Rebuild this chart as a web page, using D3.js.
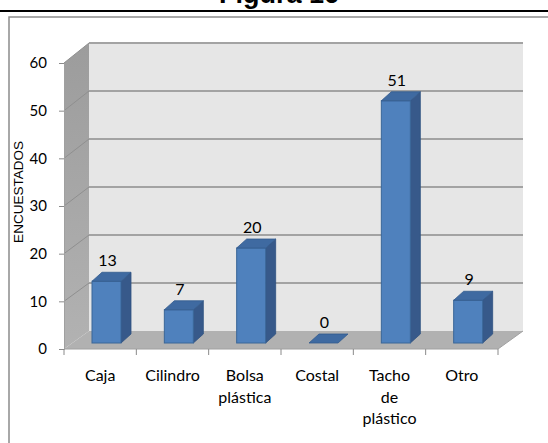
<!DOCTYPE html>
<html>
<head>
<meta charset="utf-8">
<script src="https://cdn.jsdelivr.net/npm/d3@7"></script>
<style>
  html, body { margin: 0; padding: 0; background: #fff; }
  svg { display: block; }
</style>
</head>
<body>
<svg id="chart" width="548" height="443"></svg>
<script>
// Recipiente usado para almacenar residuos
const categories = ["Caja", "Cilindro", "Bolsa plástica", "Costal", "Tacho de plástico", "Otro"];
const categoryLines = [["Caja"], ["Cilindro"], ["Bolsa", "plástica"], ["Costal"], ["Tacho", "de", "plástico"], ["Otro"]];
const values = [13, 7, 20, 0, 51, 9];
const yTicks = [0, 10, 20, 30, 40, 50, 60];
const titleText = "Figura 16";
const yTitle = "ENCUESTADOS";

const svg = d3.select("#chart");
const labelFont = "Lato, 'Open Sans', sans-serif";

// 3-D box geometry: front plane and back plane of the plot
const depthX = 25;
const x = d3.scaleBand().domain(categories).range([64, 498]).padding(0);
const yFront = d3.scaleLinear().domain([0, 60]).range([349, 63]);
const yBack = d3.scaleLinear().domain([0, 60]).range([331, 43]);
const yBar = d3.scaleLinear().domain([0, 60]).range([343, 58]);
const xL = 64, xR = 498;

// Title (its top runs past the page edge)
svg.append("text")
  .attr("x", 279).attr("y", 3)
  .attr("text-anchor", "middle")
  .attr("font-family", "'Liberation Sans', Arial, sans-serif")
  .attr("font-weight", "bold")
  .attr("font-size", 27)
  .text(titleText);

svg.append("line").attr("x1", 0).attr("x2", 548).attr("y1", 11).attr("y2", 11)
  .attr("stroke", "#000").attr("stroke-width", 2);

// Chart frame
svg.append("path")
  .attr("d", "M9,443 V17 H548")
  .attr("fill", "none").attr("stroke", "#8c8c8c").attr("stroke-width", 1.5);

const defs = svg.append("defs");
const sideGrad = defs.append("linearGradient").attr("id", "sideGrad")
  .attr("x1", 0).attr("x2", 0).attr("y1", 0).attr("y2", 1);
sideGrad.append("stop").attr("offset", 0).attr("stop-color", "#9c9c9c");
sideGrad.append("stop").attr("offset", 1).attr("stop-color", "#b2b2b2");

const bx = xL + depthX, bxR = xR + depthX;

// Back wall
svg.append("rect")
  .attr("x", bx).attr("y", yBack(60))
  .attr("width", bxR - bx).attr("height", yBack(0) - yBack(60))
  .attr("fill", "#e6e6e6");

// Side wall
svg.append("polygon")
  .attr("points", [[xL, yFront(0)], [bx, yBack(0)], [bx, yBack(60)], [xL, yFront(60)]].join(" "))
  .attr("fill", "url(#sideGrad)");

// Floor
svg.append("polygon")
  .attr("points", [[xL, yFront(0)], [bx, yBack(0)], [bxR, yBack(0)], [xR, yFront(0)]].join(" "))
  .attr("fill", "#b1b1b1");

// Gridlines on back wall and side wall
const grid = svg.append("g");
yTicks.filter(d => d > 0).forEach(v => {
  grid.append("line")
    .attr("x1", bx).attr("x2", bxR)
    .attr("y1", yBack(v)).attr("y2", yBack(v))
    .attr("stroke", "#a3a3a3").attr("stroke-width", 2);
  grid.append("line")
    .attr("x1", xL).attr("x2", bx)
    .attr("y1", yFront(v)).attr("y2", yBack(v))
    .attr("stroke", "#8f8f8f").attr("stroke-width", 1);
});

// Floor edges
svg.append("polyline")
  .attr("points", [[xL, yFront(0)], [xR, yFront(0)], [bxR, yBack(0)]].join(" "))
  .attr("fill", "none").attr("stroke", "#a0a0a0").attr("stroke-width", 1);

// Y axis (front plane)
const yAxis = d3.axisLeft(yFront).tickValues(yTicks).tickSize(5).tickPadding(12);
const gy = svg.append("g").attr("transform", `translate(${xL},0)`).call(yAxis);
gy.select(".domain").attr("stroke", "#a0a0a0");
gy.selectAll(".tick line").attr("stroke", "#8a8a8a");
gy.selectAll(".tick text")
  .attr("font-family", labelFont).attr("font-size", 15).attr("fill", "#000");

// X axis ticks along the front floor edge
const boundaries = categories.map(c => x(c)).concat([xR]);
svg.append("g").selectAll("line").data(boundaries).join("line")
  .attr("x1", d => d).attr("x2", d => d)
  .attr("y1", yFront(0)).attr("y2", yFront(0) + 6)
  .attr("stroke", "#8a8a8a");

// Category labels
const xLab = svg.append("g");
categories.forEach((c, i) => {
  const cx = x(c) + x.bandwidth() / 2;
  const t = xLab.append("text")
    .attr("x", cx)
    .attr("y", 381)
    .attr("text-anchor", "middle")
    .attr("font-family", labelFont).attr("font-size", 16).attr("fill", "#000");
  categoryLines[i].forEach((line, j) => {
    t.append("tspan").attr("x", cx).attr("dy", j === 0 ? 0 : 21.5).text(line);
  });
});

// Y title
svg.append("text")
  .attr("transform", "translate(23,192) rotate(-90)")
  .attr("text-anchor", "middle")
  .attr("font-family", "'Liberation Sans', Arial, sans-serif")
  .attr("font-size", 13.5)
  .text(yTitle);

// Bars as 3-D boxes
const bw = 29, bdx = 10, bdy = -9, barOffset = 28;
const bars = svg.append("g");
categories.forEach((c, i) => {
  const v = values[i];
  const x0 = x(c) + barOffset, x1 = x0 + bw;
  const yt = yBar(v), yb = yBar(0);
  const g = bars.append("g");
  if (v > 0) {
    g.append("polygon")
      .attr("points", [[x1, yb], [x1 + bdx, yb + bdy], [x1 + bdx, yt + bdy], [x1, yt]].join(" "))
      .attr("fill", "#37598a").attr("stroke", "#2f5280").attr("stroke-width", 0.8);
    g.append("rect")
      .attr("x", x0).attr("y", yt).attr("width", bw).attr("height", yb - yt)
      .attr("fill", "#4f81bd").attr("stroke", "#3a6698").attr("stroke-width", 1);
  }
  g.append("polygon")
    .attr("points", [[x0, yt], [x0 + bdx, yt + bdy], [x1 + bdx, yt + bdy], [x1, yt]].join(" "))
    .attr("fill", "#3f6aa1").attr("stroke", "#345c8e").attr("stroke-width", 0.8);

  // Value label
  bars.append("text")
    .attr("x", x0 + bw / 2 + 1)
    .attr("y", yt + bdy - 6)
    .attr("text-anchor", "middle")
    .attr("font-family", labelFont).attr("font-size", 16).attr("fill", "#000")
    .text(v);
});
</script>
</body>
</html>
